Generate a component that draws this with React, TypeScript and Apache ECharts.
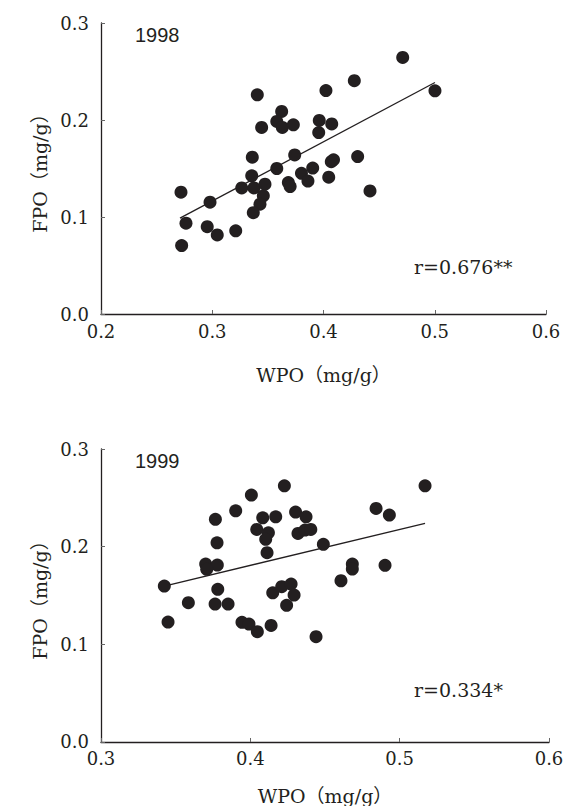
import React, { useEffect, useRef } from "react";
import * as echarts from "echarts";

// 1998 data: [WPO, FPO]
const wpo1998 = [0.3405, 0.3624, 0.358, 0.3444, 0.363, 0.3729, 0.336, 0.3741, 0.358, 0.3355, 0.3265, 0.3375, 0.3474, 0.3684, 0.370, 0.3802, 0.386, 0.3459, 0.3429, 0.3369, 0.298, 0.2719, 0.2764, 0.2955, 0.3045, 0.3211, 0.2725, 0.4712, 0.4277, 0.4022, 0.5002, 0.3962, 0.4074, 0.3957, 0.407, 0.409, 0.4307, 0.3903, 0.4047, 0.4418];
const fpo1998 = [0.226, 0.2088, 0.1985, 0.1923, 0.1923, 0.195, 0.1617, 0.164, 0.150, 0.1424, 0.130, 0.130, 0.1338, 0.1355, 0.1314, 0.145, 0.137, 0.1218, 0.1132, 0.1045, 0.1153, 0.1256, 0.0936, 0.090, 0.0815, 0.0857, 0.0705, 0.2645, 0.2405, 0.2304, 0.2301, 0.1995, 0.196, 0.1871, 0.157, 0.159, 0.1623, 0.1504, 0.141, 0.1269];
const fit1998X = [0.271, 0.5002];
const fit1998Y = [0.0988, 0.2387];

// 1999 data
const wpo1999 = [0.4228, 0.4007, 0.3902, 0.3766, 0.4083, 0.417, 0.4303, 0.4043, 0.4121, 0.4103, 0.4319, 0.4366, 0.4405, 0.3777, 0.4112, 0.3701, 0.3779, 0.3708, 0.3424, 0.3782, 0.3585, 0.3764, 0.3851, 0.415, 0.421, 0.4273, 0.4293, 0.4243, 0.3449, 0.3944, 0.3991, 0.4047, 0.4139, 0.517, 0.4842, 0.4931, 0.4373, 0.4489, 0.4683, 0.4683, 0.4902, 0.4607, 0.444];
const fpo1999 = [0.2623, 0.2528, 0.2367, 0.228, 0.2296, 0.2306, 0.2354, 0.2177, 0.2142, 0.2075, 0.2136, 0.217, 0.2177, 0.204, 0.1938, 0.1822, 0.1812, 0.1768, 0.1597, 0.1563, 0.1426, 0.1412, 0.1412, 0.1528, 0.159, 0.1617, 0.1505, 0.1399, 0.1228, 0.1225, 0.1208, 0.1129, 0.1194, 0.2623, 0.2392, 0.2323, 0.2306, 0.2024, 0.1822, 0.1771, 0.1809, 0.1651, 0.1078];
const fit1999X = [0.3424, 0.517];
const fit1999Y = [0.1597, 0.2238];

const xTicks1998 = { min: 0.2, max: 0.6, interval: 0.1 };
const xTicks1999 = { min: 0.3, max: 0.6, interval: 0.1 };
const yTicks = { min: 0, max: 0.3, interval: 0.1 };

const yearLabels = ["1998", "1999"];
const rLabels = ["r=0.676**", "r=0.334*"];
const xName = "WPO（mg/g）";
const yName = "FPO（mg/g）";

const INK = "#231f20";
const SERIF = "'DejaVu Serif', 'Liberation Serif', 'Noto Sans CJK JP', serif";
const SANS = "'Liberation Sans', Arial, sans-serif";

function pairs(xs: number[], ys: number[]) {
  return xs.map((x, i) => [x, ys[i]]);
}

export default function App() {
  const ref = useRef<HTMLDivElement>(null);
  useEffect(() => {
    document.body.style.margin = "0";
    if (!ref.current) return;
    const chart = echarts.init(ref.current, undefined, { renderer: "svg" });
    const axisCommon = {
      type: "value" as const,
      nameLocation: "middle" as const,
      nameTextStyle: { fontFamily: SERIF, fontSize: 19, color: INK },
      axisLine: { show: true, lineStyle: { color: INK, width: 1.3 } },
      axisTick: { show: true, inside: true, length: 4, lineStyle: { color: "#666", width: 1 } },
      splitLine: { show: false },
      axisLabel: { fontFamily: SERIF, fontSize: 18, color: INK, formatter: (v: number) => v.toFixed(1) },
    };
    chart.setOption({
      animation: false,
      backgroundColor: "#fff",
      grid: [
        { left: 101, top: 23, width: 445, height: 291 },
        { left: 101, top: 449, width: 448, height: 293 },
      ],
      xAxis: [
        { ...axisCommon, gridIndex: 0, ...xTicks1998, name: xName, nameGap: 51, axisLabel: { ...axisCommon.axisLabel, margin: 8 } },
        { ...axisCommon, gridIndex: 1, ...xTicks1999, name: xName, nameGap: 44, axisLabel: { ...axisCommon.axisLabel, margin: 8 } },
      ],
      yAxis: [
        { ...axisCommon, gridIndex: 0, ...yTicks, name: yName, nameGap: 50, axisLabel: { ...axisCommon.axisLabel, margin: 12 } },
        { ...axisCommon, gridIndex: 1, ...yTicks, name: yName, nameGap: 50, axisLabel: { ...axisCommon.axisLabel, margin: 12 } },
      ],
      series: [
        {
          type: "line", xAxisIndex: 0, yAxisIndex: 0, data: pairs(fit1998X, fit1998Y),
          symbol: "none", lineStyle: { color: INK, width: 1.3 }, silent: true, z: 1,
        },
        {
          type: "scatter", xAxisIndex: 0, yAxisIndex: 0, data: pairs(wpo1998, fpo1998),
          symbolSize: 13, itemStyle: { color: INK, opacity: 1 }, z: 2,
        },
        {
          type: "line", xAxisIndex: 1, yAxisIndex: 1, data: pairs(fit1999X, fit1999Y),
          symbol: "none", lineStyle: { color: INK, width: 1.3 }, silent: true, z: 1,
        },
        {
          type: "scatter", xAxisIndex: 1, yAxisIndex: 1, data: pairs(wpo1999, fpo1999),
          symbolSize: 13, itemStyle: { color: INK, opacity: 1 }, z: 2,
        },
      ],
      graphic: [
        { type: "text", left: 135, top: 25, style: { text: yearLabels[0], font: `20px ${SANS}`, fill: INK } },
        { type: "text", left: 135, top: 451, style: { text: yearLabels[1], font: `20px ${SANS}`, fill: INK } },
        { type: "text", left: 414, top: 257, style: { text: rLabels[0], font: `19px ${SERIF}`, fill: INK } },
        { type: "text", left: 414, top: 680, style: { text: rLabels[1], font: `19px ${SERIF}`, fill: INK } },
      ],
    });
    return () => chart.dispose();
  }, []);
  return <div ref={ref} style={{ width: 570, height: 806 }} />;
}
